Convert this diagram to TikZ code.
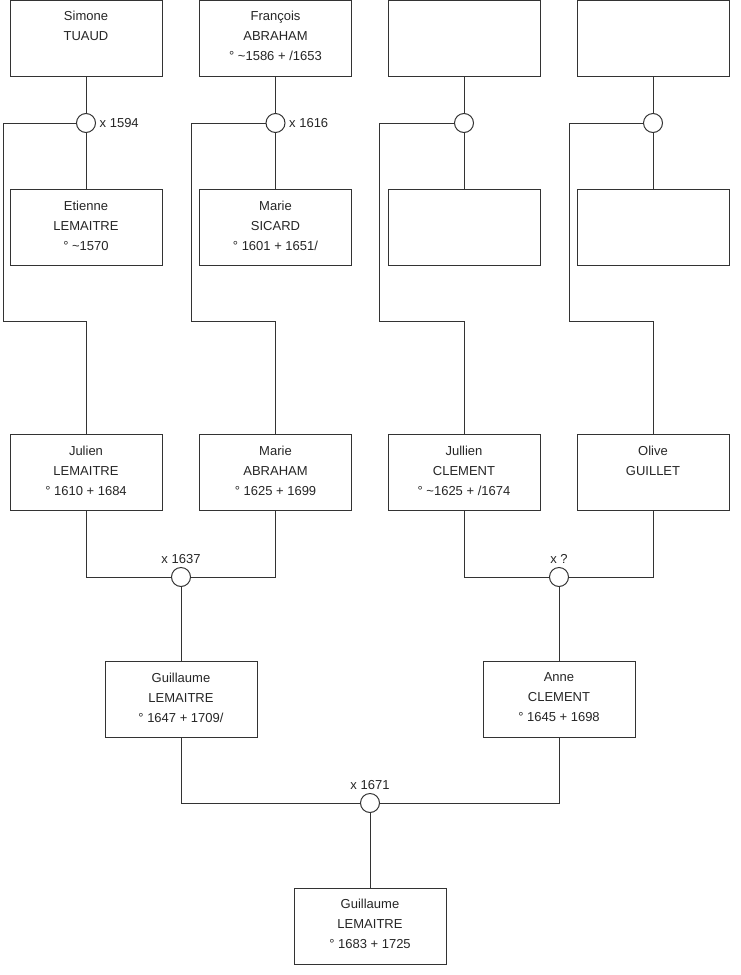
\documentclass[tikz,border=0pt]{standalone}
\usepackage{fontspec}
\setmainfont{Liberation Sans}
\begin{document}
\begin{tikzpicture}[x=1pt,y=-1pt,
  lc/.style={draw=black!80,line width=1pt},
  box/.style={lc,rectangle,minimum width=152pt,minimum height=76pt,inner sep=0pt,fill=white},
  txt/.style={anchor=north,inner sep=0pt,align=center,font=\fontsize{13}{20}\selectfont,text=black!85},
  ring/.style={lc,circle,minimum size=19pt,inner sep=0pt,fill=white},
  lbl/.style={inner sep=0pt,font=\fontsize{13}{20}\selectfont,text=black!85}]
\useasboundingbox (0,0) rectangle (740,975);
% row 1
\node[box] (a1) at (86,38) {};
\node[box] (a2) at (275.5,38) {};
\node[box] (a3) at (464,38) {};
\node[box] (a4) at (653,38) {};
\node[txt] (ta1) at ([yshift=-11.5pt]a1.north) {Simone\\TUAUD};
\node[txt] (ta2) at ([yshift=-11.5pt]a2.north) {François\\ABRAHAM\\° \textasciitilde1586 + /1653};
% row 2
\node[box] (b1) at (86,227.5) {};
\node[box] (b2) at (275.5,227.5) {};
\node[box] (b3) at (464,227.5) {};
\node[box] (b4) at (653,227.5) {};
\node[txt] (tb1) at ([yshift=-11.5pt]b1.north) {Etienne\\LEMAITRE\\° \textasciitilde1570};
\node[txt] (tb2) at ([yshift=-11.5pt]b2.north) {Marie\\SICARD\\° 1601 + 1651/};
% row 3
\node[box] (c1) at (86,472.5) {};
\node[box] (c2) at (275.5,472.5) {};
\node[box] (c3) at (464,472.5) {};
\node[box] (c4) at (653,472.5) {};
\node[txt] (tc1) at ([yshift=-11.5pt]c1.north) {Julien\\LEMAITRE\\° 1610 + 1684};
\node[txt] (tc2) at ([yshift=-11.5pt]c2.north) {Marie\\ABRAHAM\\° 1625 + 1699};
\node[txt] (tc3) at ([yshift=-11.5pt]c3.north) {Jullien\\CLEMENT\\° \textasciitilde1625 + /1674};
\node[txt] (tc4) at ([yshift=-11.5pt]c4.north) {Olive\\GUILLET};
% row 4
\node[box] (d1) at (181,699.5) {};
\node[box] (d2) at (559,699.5) {};
\node[txt] (td1) at ([yshift=-11.5pt]d1.north) {Guillaume\\LEMAITRE\\° 1647 + 1709/};
\node[txt] (td2) at ([yshift=-11.5pt]d2.north) {Anne\\CLEMENT\\° 1645 + 1698};
% bottom
\node[box] (e1) at (370,926) {};
\node[txt] (te1) at ([yshift=-11.5pt]e1.north) {Guillaume\\LEMAITRE\\° 1683 + 1725};
% unions row 1
\node[ring] (u1) at (86,123) {};
\node[ring] (u2) at (275.5,123) {};
\node[ring] (u3) at (464,123) {};
\node[ring] (u4) at (653,123) {};
\node[lbl,anchor=west] (l1) at (99.5,123) {x 1594};
\node[lbl,anchor=west] (l2) at (289,123) {x 1616};
% unions lower
\node[ring] (v1) at (181,577) {};
\node[ring] (v2) at (559,577) {};
\node[ring] (w1) at (370,803) {};
\node[lbl,anchor=base] (l3) at (181,563) {x 1637};
\node[lbl,anchor=base] (l4) at (559,563) {x ?};
\node[lbl,anchor=base] (l5) at (370,789) {x 1671};
% corner coordinates
\coordinate (k1) at (3,321);
\coordinate (k2) at (191,321);
\coordinate (k3) at (379,321);
\coordinate (k4) at (569,321);
% connectors
\foreach \i in {1,2,3,4}{
  \draw[lc] (a\i.south) -- (u\i.north);
  \draw[lc] (u\i.south) -- (b\i.north);
  \draw[lc] (u\i.west) -| (k\i) -- (k\i -| c\i.north) -- (c\i.north);
}
\draw[lc] (c1.south) |- (v1.west);
\draw[lc] (c2.south) |- (v1.east);
\draw[lc] (v1.south) -- (d1.north);
\draw[lc] (c3.south) |- (v2.west);
\draw[lc] (c4.south) |- (v2.east);
\draw[lc] (v2.south) -- (d2.north);
\draw[lc] (d1.south) |- (w1.west);
\draw[lc] (d2.south) |- (w1.east);
\draw[lc] (w1.south) -- (e1.north);
\end{tikzpicture}
\end{document}
